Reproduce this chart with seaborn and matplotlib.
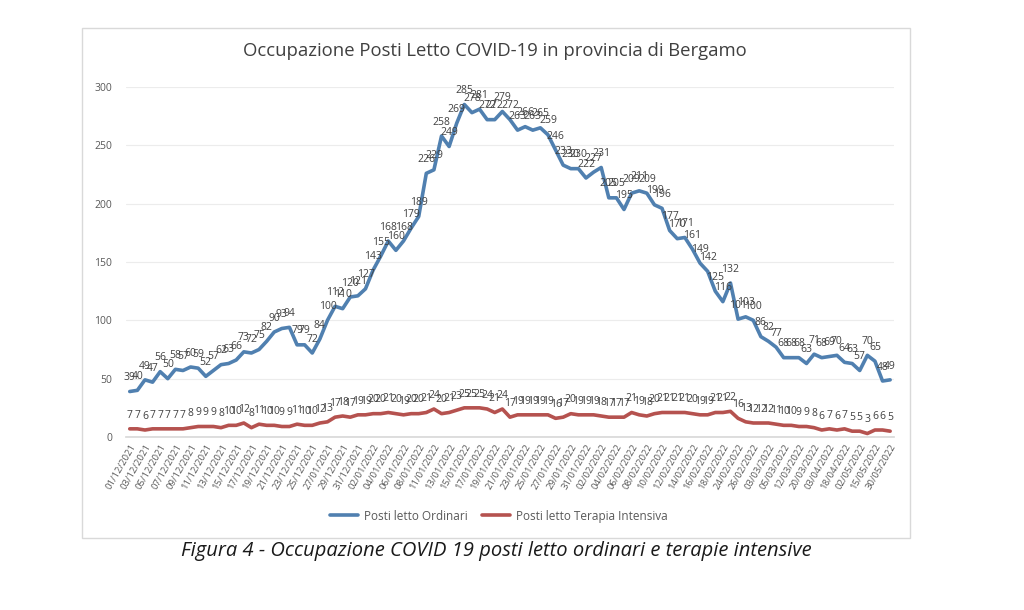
import matplotlib
matplotlib.use("Agg")
import matplotlib.pyplot as plt
from matplotlib.lines import Line2D
from matplotlib.patches import Rectangle
import pandas as pd
import seaborn as sns

# one label every second day, as in the original sheet
tick_labels = [
    "01/12/2021", "03/12/2021", "05/12/2021", "07/12/2021", "09/12/2021",
    "11/12/2021", "13/12/2021", "15/12/2021", "17/12/2021", "19/12/2021",
    "21/12/2021", "23/12/2021", "25/12/2021", "27/01/2021", "29/12/2021",
    "31/12/2021", "02/01/2022", "04/01/2022", "06/01/2022", "08/01/2022",
    "11/01/2022", "13/01/2022", "15/01/2022", "17/01/2022", "19/01/2022",
    "21/01/2022", "23/01/2022", "25/01/2022", "27/01/2022", "29/01/2022",
    "31/01/2022", "02/02/2022", "04/02/2022", "06/02/2022", "08/02/2022",
    "10/02/2022", "12/02/2022", "14/02/2022", "16/02/2022", "18/02/2022",
    "24/02/2022", "26/02/2022", "03/03/2022", "05/03/2022", "12/03/2022",
    "20/03/2022", "03/04/2022", "18/04/2022", "02/05/2022", "15/05/2022",
    "30/05/2022",
]

ordinari = [
    39, 40, 49, 47, 56, 50, 58, 57, 60, 59,
    52, 57, 62, 63, 66, 73, 72, 75, 82, 90,
    93, 94, 79, 79, 72, 84, 100, 112, 110, 120,
    121, 127, 143, 155, 168, 160, 168, 179, 189, 226,
    229, 258, 249, 269, 285, 278, 281, 272, 272, 279,
    272, 263, 266, 263, 265, 259, 246, 233, 230, 230,
    222, 227, 231, 205, 205, 195, 209, 211, 209, 199,
    196, 177, 170, 171, 161, 149, 142, 125, 116, 132,
    101, 103, 100, 86, 82, 77, 68, 68, 68, 63,
    71, 68, 69, 70, 64, 63, 57, 70, 65, 48,
    49,
]

intensiva = [
    7, 7, 6, 7, 7, 7, 7, 7, 8, 9,
    9, 9, 8, 10, 10, 12, 8, 11, 10, 10,
    9, 9, 11, 10, 10, 12, 13, 17, 18, 17,
    19, 19, 20, 20, 21, 20, 19, 20, 20, 21,
    24, 20, 21, 23, 25, 25, 25, 24, 21, 24,
    17, 19, 19, 19, 19, 19, 16, 17, 20, 19,
    19, 19, 18, 17, 17, 17, 21, 19, 18, 20,
    21, 21, 21, 21, 20, 19, 19, 21, 21, 22,
    16, 13, 12, 12, 12, 11, 10, 10, 9, 9,
    8, 6, 7, 6, 7, 5, 5, 3, 6, 6,
    5,
]

serie_ord = "Posti letto Ordinari"
serie_ti = "Posti letto Terapia Intensiva"
colori = {serie_ord: "#5080b0", serie_ti: "#b5524f"}

df = pd.DataFrame({"giorno": range(len(ordinari)), serie_ord: ordinari, serie_ti: intensiva})
long = df.melt(id_vars="giorno", var_name="serie", value_name="posti")

sns.set_theme(style="white")
plt.rcParams["font.family"] = ["Open Sans", "DejaVu Sans"]

fig = plt.figure(figsize=(10.24, 6.1), dpi=100)
fig.patches.append(Rectangle((0.080, 0.118), 0.809, 0.836, transform=fig.transFigure,
                             fill=False, edgecolor="#d9d9d9", linewidth=1))

ax = fig.add_axes([0.123, 0.2836, 0.75, 0.5738])
sns.lineplot(data=long, x="giorno", y="posti", hue="serie", palette=colori,
             linewidth=2.6, ax=ax, legend=False)

# data labels on every point, like the excel chart
for col in [serie_ord, serie_ti]:
    for x, v in zip(df["giorno"], df[col]):
        ax.annotate(str(v), (x, v), xytext=(0, 6), textcoords="offset points",
                    ha="center", va="bottom", fontsize=7.5, color="#404040")

ax.set_xlim(-0.5, len(ordinari) - 0.5)
ax.set_ylim(0, 300)
ax.set_yticks(range(0, 301, 50))
ax.set_xticks(range(0, len(ordinari), 2))
ax.set_xticklabels(tick_labels, rotation=60, ha="right", rotation_mode="anchor",
                   fontsize=6.8, color="#595959")
ax.tick_params(axis="y", labelsize=7.5, colors="#595959", length=0, pad=10)
ax.tick_params(axis="x", length=0, pad=4)
ax.set_xlabel("")
ax.set_ylabel("")
ax.yaxis.grid(True, color="#ececec", linewidth=0.8)
for s in ["top", "right", "left"]:
    ax.spines[s].set_visible(False)
ax.spines["bottom"].set_color("#d9d9d9")

fig.text(0.483, 0.916, "Occupazione Posti Letto COVID-19 in provincia di Bergamo",
         ha="center", va="center", fontsize=13.3, color="#404040")

handles = [Line2D([], [], color=colori[serie_ord], linewidth=2.6),
           Line2D([], [], color=colori[serie_ti], linewidth=2.6)]
fig.legend(handles, [serie_ord, serie_ti], loc="center", bbox_to_anchor=(0.487, 0.154),
           ncol=2, frameon=False, fontsize=8.5, handlelength=2.4, columnspacing=1.2,
           handletextpad=0.5, labelcolor="#595959")

fig.text(0.485, 0.097, "Figura 4 - Occupazione COVID 19 posti letto ordinari e terapie intensive",
         ha="center", va="center", fontsize=14.5, style="italic", color="#1a1a1a")

fig.savefig("out.png", dpi=100, facecolor="white")
